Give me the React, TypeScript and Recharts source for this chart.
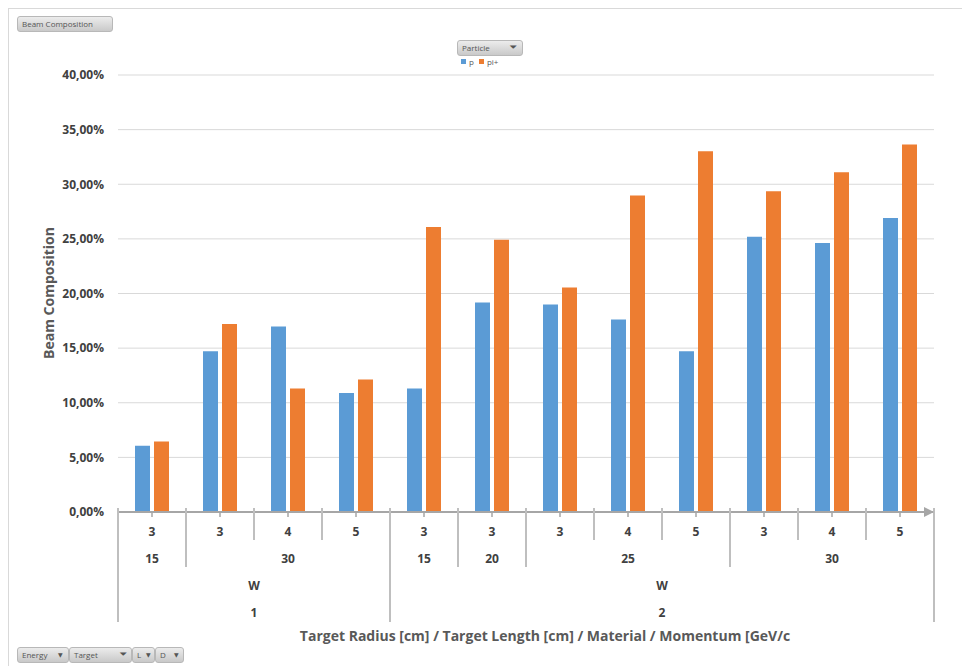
import React from "react";
import { BarChart, Bar, XAxis, YAxis, CartesianGrid } from "recharts";

// category levels, innermost first
const momentum = ["3", "3", "4", "5", "3", "3", "3", "4", "5", "3", "4", "5"];
const targetLength = ["15", "30", "30", "30", "15", "20", "25", "25", "25", "30", "30", "30"];
const material = ["W", "W", "W", "W", "W", "W", "W", "W", "W", "W", "W", "W"];
const targetRadius = ["1", "1", "1", "1", "2", "2", "2", "2", "2", "2", "2", "2"];

// beam composition in %
const pValues = [6.06, 14.72, 16.97, 10.9, 11.3, 19.17, 18.99, 17.61, 14.72, 25.2, 24.62, 26.9];
const piValues = [6.46, 17.2, 11.3, 12.13, 26.08, 24.93, 20.54, 28.98, 33.03, 29.37, 31.1, 33.64];

const yTicks = [0, 5, 10, 15, 20, 25, 30, 35, 40];

const seriesNames = ["p", "pi+"];
const colors = ["#5B9BD5", "#ED7D31"];

const data = momentum.map((m, i) => ({
  idx: i,
  p: pValues[i],
  pi: piValues[i],
}));

const W = 962;
const H = 666;
const Y_W = 118;
const X_H = 120;
const MARGIN = { top: 75, right: 28, bottom: 34, left: 0 };
const BAND = (W - Y_W - MARGIN.right) / momentum.length;
const TICK = 5;

const FONT = "'Open Sans', 'DejaVu Sans', sans-serif";
const LINE = "#bfbfbf";

// key for each level (outer levels included so groups never cross a parent)
const levelKey = (lvl: number, i: number) => {
  const parts = [targetRadius[i], material[i], targetLength[i], momentum[i]];
  return parts.slice(0, 4 - lvl).join("|");
};
const levelLabel = [momentum, targetLength, material, targetRadius];
const levelDepth = [540, 567, 594, 622];
const levelTextY = [531, 558, 585, 612];

function runLength(lvl: number, i: number) {
  let n = 1;
  while (i + n < momentum.length && levelKey(lvl, i + n) === levelKey(lvl, i)) n++;
  return n;
}

function MultiTick(props: any) {
  const { x, y, payload } = props;
  const i = payload.index ?? payload.value;
  const axisY = y - TICK;
  const left = x - BAND / 2;
  const right = x + BAND / 2;

  // how deep the left separator goes: deepest level whose group starts here
  let sepLevel = 0;
  for (let l = 3; l >= 1; l--) {
    if (i === 0 || levelKey(l, i) !== levelKey(l, i - 1)) {
      sepLevel = l;
      break;
    }
  }

  const labels: React.ReactNode[] = [];
  for (let l = 0; l < 4; l++) {
    const start = i === 0 || levelKey(l, i) !== levelKey(l, i - 1);
    if (!start) continue;
    const len = runLength(l, i);
    labels.push(
      <text
        key={l}
        x={x + ((len - 1) * BAND) / 2}
        y={levelTextY[l]}
        textAnchor="middle"
        dominantBaseline="central"
        fontFamily={FONT}
        fontWeight={700}
        fontSize={12}
        fill="#404040"
      >
        {levelLabel[l][i]}
      </text>
    );
  }

  const last = i === momentum.length - 1;
  return (
    <g>
      <line x1={left} x2={left} y1={axisY - 4} y2={levelDepth[sepLevel]} stroke={LINE} strokeWidth={2} />
      {last && (
        <>
          <line x1={right} x2={right} y1={axisY - 4} y2={levelDepth[3]} stroke={LINE} strokeWidth={2} />
          <polygon
            points={`${right},${axisY} ${right - 10},${axisY - 5} ${right - 10},${axisY + 5}`}
            fill="#a6a6a6"
          />
        </>
      )}
      {labels}
    </g>
  );
}

const fmt = (v: number) => v.toFixed(2).replace(".", ",") + "%";

const btn: React.CSSProperties = {
  position: "absolute",
  height: 16,
  boxSizing: "border-box",
  background: "linear-gradient(#ececec, #c9c9c9)",
  border: "1px solid #b8b8b8",
  borderRadius: 3,
  fontFamily: FONT,
  fontSize: 8,
  color: "#555",
  lineHeight: "14px",
  paddingLeft: 4,
  whiteSpace: "nowrap",
};

const arrow = (x: number) => (
  <span style={{ position: "absolute", left: x, top: 0, fontSize: 6 }}>▼</span>
);

export default function App() {
  return (
    <div style={{ position: "absolute", left: 0, top: 0, width: W, height: H, background: "#fff", overflow: "hidden" }}>
      <div style={{ position: "absolute", left: 8, top: 8, right: 0, bottom: 0, borderTop: "1px solid #d9d9d9", borderLeft: "1px solid #d9d9d9" }} />
      <BarChart
        width={W}
        height={H}
        data={data}
        margin={MARGIN}
        barSize={15}
        barGap={4}
        style={{ position: "absolute", left: 0, top: 0 }}
      >
        <CartesianGrid vertical={false} stroke="#d9d9d9" />
        <YAxis
          width={Y_W}
          domain={[0, 40]}
          ticks={yTicks}
          tickFormatter={fmt}
          axisLine={false}
          tickLine={false}
          tickMargin={8}
          tick={{ fontFamily: FONT, fontWeight: 700, fontSize: 12, fill: "#404040" }}
          label={{
            content: () => (
              <text
                x={48}
                y={293}
                transform="rotate(-90 48 293)"
                textAnchor="middle"
                dominantBaseline="central"
                fontFamily={FONT}
                fontWeight={700}
                fontSize={14}
                fill="#595959"
              >
                Beam Composition
              </text>
            ),
          }}
        />
        <XAxis
          dataKey="idx"
          type="category"
          height={X_H}
          interval={0}
          tickSize={TICK}
          tickMargin={0}
          axisLine={{ stroke: "#a6a6a6", strokeWidth: 2 }}
          tickLine={{ stroke: "#a6a6a6", strokeWidth: 1.5 }}
          tick={<MultiTick />}
          label={{
            content: () => (
              <text
                x={545}
                y={635}
                textAnchor="middle"
                dominantBaseline="central"
                fontFamily={FONT}
                fontWeight={700}
                fontSize={14}
                fill="#595959"
              >
                Target Radius [cm] / Target Length [cm] / Material / Momentum [GeV/c
              </text>
            ),
          }}
        />
        <Bar dataKey="p" name={seriesNames[0]} fill={colors[0]} isAnimationActive={false} />
        <Bar dataKey="pi" name={seriesNames[1]} fill={colors[1]} isAnimationActive={false} />
      </BarChart>

      <div style={{ ...btn, left: 17, top: 16, width: 96 }}>Beam Composition</div>
      <div style={{ ...btn, left: 457, top: 40, width: 66 }}>
        Particle
        <span style={{ position: "absolute", left: 52, top: -1, fontSize: 9 }}>⏷</span>
      </div>
      <div style={{ position: "absolute", left: 461, top: 56, display: "flex", alignItems: "center", fontFamily: FONT, fontSize: 8, color: "#595959" }}>
        {seriesNames.map((n, k) => (
          <span key={n} style={{ display: "flex", alignItems: "center", marginRight: 5 }}>
            <span style={{ width: 5, height: 5, background: colors[k], display: "inline-block", marginRight: 3 }} />
            {n}
          </span>
        ))}
      </div>

      <div style={{ ...btn, left: 17, top: 647, width: 52 }}>Energy{arrow(40)}</div>
      <div style={{ ...btn, left: 69, top: 647, width: 63 }}>
        Target
        <span style={{ position: "absolute", left: 50, top: -1, fontSize: 9 }}>⏷</span>
      </div>
      <div style={{ ...btn, left: 132, top: 647, width: 23 }}>L{arrow(13)}</div>
      <div style={{ ...btn, left: 155, top: 647, width: 29 }}>D{arrow(18)}</div>
    </div>
  );
}
